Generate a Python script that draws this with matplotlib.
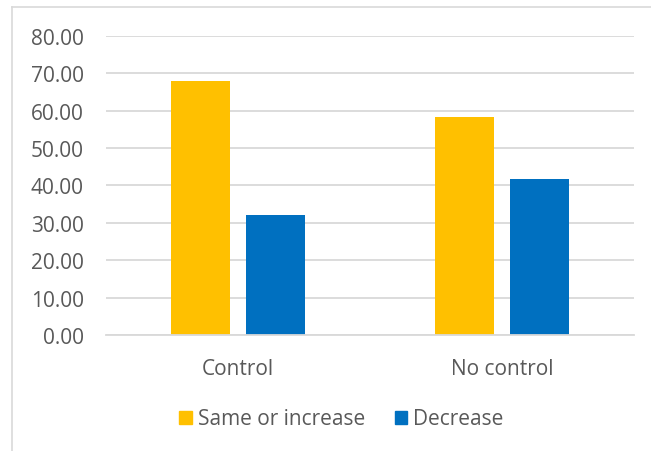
import matplotlib
matplotlib.use("Agg")
import numpy as np
import matplotlib.pyplot as plt
import matplotlib.patches as mpatches
from matplotlib.lines import Line2D

# Data
categories = ["Control", "No control"]
same_or_increase = [67.9, 58.3]
decrease = [32.1, 41.7]
series_names = ["Same or increase", "Decrease"]
yticks = [0, 10, 20, 30, 40, 50, 60, 70, 80]

YELLOW = "#FFC000"
BLUE = "#0070C0"
GRID = "#D9D9D9"
TEXT = "#595959"

plt.rcParams["font.family"] = ["Open Sans", "DejaVu Sans"]

W, H = 651, 452
fig = plt.figure(figsize=(W / 100, H / 100), dpi=100)

# chart area border (Excel-style, only top and left visible)
fig.add_artist(Line2D([12 / W, 1.0], [1 - 8 / H, 1 - 8 / H], color=GRID, lw=1.2,
                      transform=fig.transFigure))
fig.add_artist(Line2D([12 / W, 12 / W], [0.0, 1 - 8 / H], color=GRID, lw=1.2,
                      transform=fig.transFigure))

ax = fig.add_axes([106 / W, 1 - 336 / H, (634 - 106) / W, (336 - 36.7) / H])

x = np.arange(len(categories))
bw = 0.2235
off = 0.142
ax.bar(x - off, same_or_increase, width=bw, color=YELLOW, zorder=3)
ax.bar(x + off, decrease, width=bw, color=BLUE, zorder=3)

ax.set_xlim(-0.5, len(categories) - 0.5)
ax.set_ylim(0, 80)
ax.set_yticks(yticks)
ax.set_yticklabels([f"{v:.2f}" for v in yticks])
ax.set_xticks(x)
ax.set_xticklabels(categories)
ax.tick_params(axis="both", length=0, labelsize=15, labelcolor=TEXT)
ax.tick_params(axis="y", pad=16)
ax.tick_params(axis="x", pad=16.5)

ax.grid(axis="y", color=GRID, lw=1.3, zorder=0)
for s in ["top", "right", "left"]:
    ax.spines[s].set_visible(False)
ax.spines["bottom"].set_color(GRID)
ax.spines["bottom"].set_linewidth(1.3)
ax.spines["bottom"].set_zorder(4)

handles = [mpatches.Patch(color=YELLOW, label=series_names[0]),
           mpatches.Patch(color=BLUE, label=series_names[1])]
leg = fig.legend(handles=handles, loc="center", bbox_to_anchor=(341.5 / W, 1 - 420 / H),
                 ncol=2, frameon=False, fontsize=15, handlelength=0.6, handleheight=0.6,
                 handletextpad=0.3, columnspacing=1.4, borderpad=0)
for t in leg.get_texts():
    t.set_color(TEXT)

fig.savefig("out.png", dpi=100)
